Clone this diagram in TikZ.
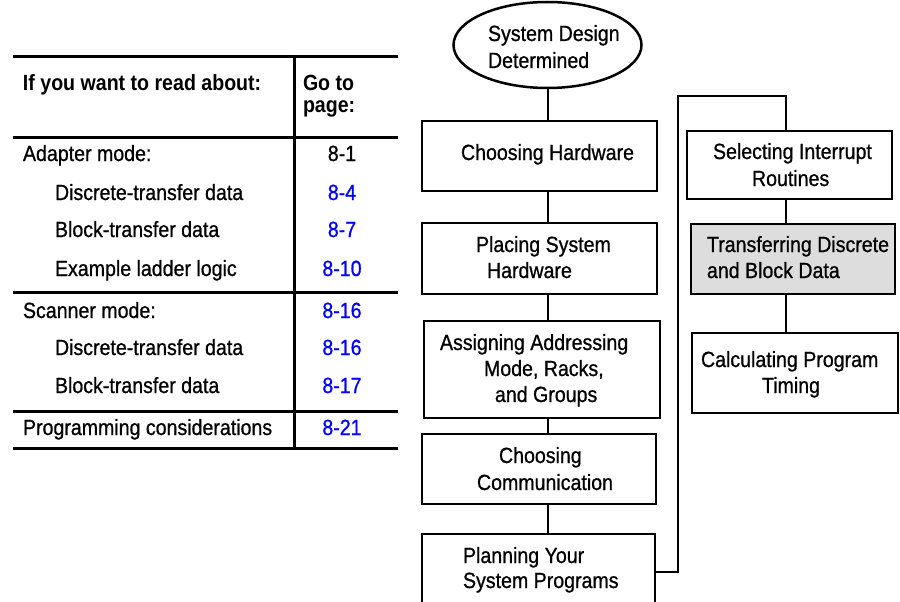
\documentclass[tikz,border=0pt]{standalone}
\usepackage{fontspec}
\setmainfont{Liberation Sans}[FakeStretch=0.89,UprightFeatures={FakeBold=0.8}]
\usetikzlibrary{shapes.geometric}
\definecolor{boxgray}{RGB}{221,221,221}
\definecolor{pageblue}{RGB}{0,0,255}
\begin{document}
\begin{tikzpicture}[x=1pt,y=-1pt,
  box/.style={draw,line width=2.8pt,rectangle,inner sep=0pt,outer sep=0pt},
  txt/.style={inner sep=0pt,outer sep=0pt,anchor=base west,font=\fontsize{22}{26.5}\selectfont},
  num/.style={inner sep=0pt,outer sep=0pt,anchor=base,font=\fontsize{22}{26.5}\selectfont},
  conn/.style={line width=2.8pt},
  rulel/.style={line width=3pt}]
\useasboundingbox (0,0) rectangle (900,602);
\clip (0,0) rectangle (900,602);

% ---------------- table ----------------
\draw[rulel] (13,57) -- (398,57);
\draw[rulel] (13,137) -- (398,137);
\draw[rulel] (13,292) -- (398,292);
\draw[rulel] (13,411) -- (398,411);
\draw[rulel] (13,448) -- (398,448);
\draw[rulel] (294,55) -- (294,449);

\node[txt,font=\fontsize{22}{26.5}\selectfont\bfseries] (th1) at (23,90) {If you want to read about:};
\node[txt,font=\fontsize{22}{26.5}\selectfont\bfseries] (th2) at (303,90) {Go to};
\node[txt,font=\fontsize{22}{26.5}\selectfont\bfseries] (th3) at (303,112) {page:};

\node[txt] (r1) at (23,161) {Adapter mode:};
\node[txt] (r2) at (55,200) {Discrete-transfer data};
\node[txt] (r3) at (55,237) {Block-transfer data};
\node[txt] (r4) at (55,276) {Example ladder logic};
\node[txt] (r5) at (23,318) {Scanner mode:};
\node[txt] (r6) at (55,355) {Discrete-transfer data};
\node[txt] (r7) at (55,393) {Block-transfer data};
\node[txt] (r8) at (23,435) {Programming considerations};

\node[num] (p1) at (342,161) {8-1};
\node[num,text=pageblue] (p2) at (342,200) {8-4};
\node[num,text=pageblue] (p3) at (342,237) {8-7};
\node[num,text=pageblue] (p4) at (342,276) {8-10};
\node[num,text=pageblue] (p5) at (342,318) {8-16};
\node[num,text=pageblue] (p6) at (342,355) {8-16};
\node[num,text=pageblue] (p7) at (342,393) {8-17};
\node[num,text=pageblue] (p8) at (342,435) {8-21};

% ---------------- flowchart boxes ----------------
\node[ellipse,draw,line width=2.5pt,inner sep=0pt,outer sep=0pt,minimum width=188pt,minimum height=86pt] (ell) at (547.5,45) {};
\node[box,minimum width=235pt,minimum height=70pt] (hw) at (539.5,156) {};
\node[box,minimum width=235pt,minimum height=71pt] (place) at (539.5,258.5) {};
\node[box,minimum width=236pt,minimum height=97pt] (assign) at (542,369.5) {};
\node[box,minimum width=234pt,minimum height=70pt] (comm) at (539,469) {};
\node[box,minimum width=233pt,minimum height=76pt] (plan) at (538.5,572) {};

\node[box,minimum width=205pt,minimum height=68pt] (intr) at (789.5,165) {};
\node[box,fill=boxgray,minimum width=204pt,minimum height=70pt] (xfer) at (793,259) {};
\node[box,minimum width=206pt,minimum height=80pt] (calc) at (795,373) {};

% ---------------- flowchart texts ----------------
\node[txt] (t1a) at (488,41) {System Design};
\node[txt] (t1b) at (488,68) {Determined};
\node[txt] (t2) at (461,160) {Choosing Hardware};
\node[txt] (t3a) at (476,252) {Placing System};
\node[txt] (t3b) at (487,278) {Hardware};
\node[txt] (t4a) at (440,350) {Assigning Addressing};
\node[txt] (t4b) at (484,376) {Mode, Racks,};
\node[txt] (t4c) at (495,402) {and Groups};
\node[txt] (t5a) at (499,463) {Choosing};
\node[txt] (t5b) at (477,490) {Communication};
\node[txt] (t6a) at (463,563) {Planning Your};
\node[txt] (t6b) at (463,588) {System Programs};
\node[txt] (t7a) at (713,159) {Selecting Interrupt};
\node[txt] (t7b) at (752,186) {Routines};
\node[txt] (t8a) at (707,252) {Transferring Discrete};
\node[txt] (t8b) at (707,278) {and Block Data};
\node[txt] (t9a) at (701,367) {Calculating Program};
\node[txt] (t9b) at (762,393) {Timing};

% ---------------- connectors ----------------
\coordinate (lx) at (548,0);
\coordinate (rx) at (786,0);
\coordinate (ca) at (678,96);
\coordinate (cb) at (786,96);

\draw[conn] (lx |- ell.south) -- (lx |- hw.north);
\draw[conn] (lx |- hw.south) -- (lx |- place.north);
\draw[conn] (lx |- place.south) -- (lx |- assign.north);
\draw[conn] (lx |- assign.south) -- (lx |- comm.north);
\draw[conn] (lx |- comm.south) -- (lx |- plan.north);

\draw[conn] (plan.east) -| (ca) -- (cb) -- (cb |- intr.north);
\draw[conn] (rx |- intr.south) -- (rx |- xfer.north);
\draw[conn] (rx |- xfer.south) -- (rx |- calc.north);
\end{tikzpicture}
\end{document}
